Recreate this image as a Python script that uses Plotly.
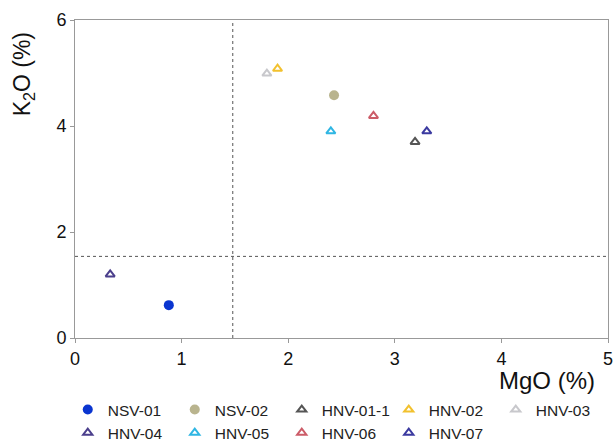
import plotly.graph_objects as go

samples = ["NSV-01", "NSV-02", "HNV-01-1", "HNV-02", "HNV-03", "HNV-04", "HNV-05", "HNV-06", "HNV-07"]
mgo = [0.88, 2.43, 3.19, 1.90, 1.80, 0.33, 2.40, 2.80, 3.30]
k2o = [0.62, 4.58, 3.70, 5.08, 4.99, 1.20, 3.90, 4.19, 3.90]
symbols = ["circle", "circle", "triangle-up-open", "triangle-up-open", "triangle-up-open",
           "triangle-up-open", "triangle-up-open", "triangle-up-open", "triangle-up-open"]
colors = ["#0a35d0", "#b9b48e", "#555555", "#f2c12e", "#c8c8cc",
          "#4b3f8c", "#2fb6e3", "#cc5c68", "#3b3aa0"]
mgo_threshold = 1.48
k2o_threshold = 1.54

fig = go.Figure()
for s, x, y, sym, c in zip(samples, mgo, k2o, symbols, colors):
    is_open = sym.endswith("open")
    fig.add_trace(go.Scatter(
        x=[x], y=[y], mode="markers", name=s,
        marker=dict(symbol=sym, color=c, size=8 if is_open else 10,
                    line=dict(width=2 if is_open else 0, color=c)),
    ))

fig.add_shape(type="line", x0=mgo_threshold, x1=mgo_threshold, y0=0, y1=6,
              line=dict(color="#555", width=1, dash="dot"))
fig.add_shape(type="line", x0=0, x1=5, y0=k2o_threshold, y1=k2o_threshold,
              line=dict(color="#555", width=1, dash="dot"))

fig.add_annotation(text="K<sub>2</sub>O (%)", xref="paper", yref="paper",
                   x=-0.097, y=0.83, textangle=-90, showarrow=False,
                   font=dict(size=23, color="#111"), xanchor="center", yanchor="middle")
fig.add_annotation(text="MgO (%)", xref="paper", yref="paper",
                   x=0.98, y=-0.085, showarrow=False,
                   font=dict(size=24, color="#111"), xanchor="right", yanchor="top")

axis_common = dict(showgrid=False, zeroline=False, showline=True, linecolor="#999",
                   linewidth=1, mirror=True, ticks="outside", ticklen=4, tickcolor="#999",
                   ticklabeloverflow="allow",
                   tickfont=dict(size=18, color="#111", family="Liberation Sans, Arial"))
fig.update_xaxes(range=[0, 5], dtick=1, **axis_common)
fig.update_yaxes(range=[0, 6], tickvals=[0, 2, 4, 6], **axis_common)

fig.update_layout(
    width=616, height=444,
    margin=dict(l=75, r=3, t=20, b=106),
    plot_bgcolor="white", paper_bgcolor="white",
    font=dict(family="Liberation Sans, Arial", color="#111"),
    legend=dict(orientation="h", x=0.11, xref="container", y=0.115, yref="container",
                xanchor="left", yanchor="top", entrywidth=62,
                font=dict(size=15.5, color="#222"), itemwidth=30, tracegroupgap=0,
                bgcolor="rgba(0,0,0,0)"),
    showlegend=True,
)
fig.write_html("out.html")
